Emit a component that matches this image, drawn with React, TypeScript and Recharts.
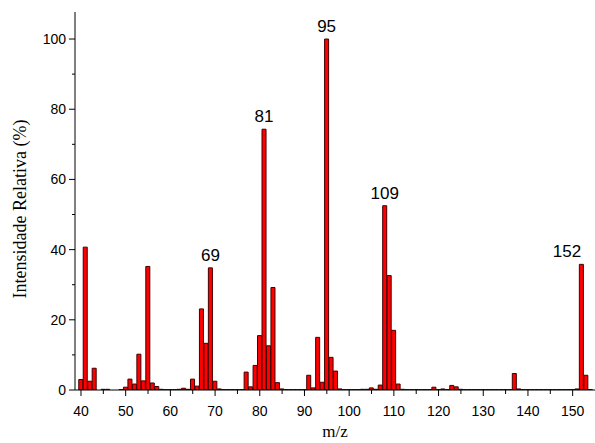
import { BarChart, Bar, XAxis, YAxis, LabelList, Label } from 'recharts';

// m/z values (one bar per integer mass)
const massToCharge = [
  39, 40, 41, 42, 43, 44, 45, 46, 47, 48,
  49, 50, 51, 52, 53, 54, 55, 56, 57, 58,
  59, 60, 61, 62, 63, 64, 65, 66, 67, 68,
  69, 70, 71, 72, 73, 74, 75, 76, 77, 78,
  79, 80, 81, 82, 83, 84, 85, 86, 87, 88,
  89, 90, 91, 92, 93, 94, 95, 96, 97, 98,
  99, 100, 101, 102, 103, 104, 105, 106, 107, 108,
  109, 110, 111, 112, 113, 114, 115, 116, 117, 118,
  119, 120, 121, 122, 123, 124, 125, 126, 127, 128,
  129, 130, 131, 132, 133, 134, 135, 136, 137, 138,
  139, 140, 141, 142, 143, 144, 145, 146, 147, 148,
  149, 150, 151, 152, 153, 154,
];

// relative intensity (%)
const intensity = [
  0, 3.0, 40.7, 2.5, 6.2, 0, 0.2, 0.2, 0, 0,
  0.1, 0.8, 3.1, 1.7, 10.2, 2.6, 35.2, 2.0, 1.0, 0.2,
  0.1, 0.1, 0.1, 0.2, 0.5, 0.2, 3.1, 1.1, 23.1, 13.3,
  34.8, 2.5, 0.3, 0.1, 0.1, 0.1, 0.1, 0.1, 5.1, 0.9,
  7.0, 15.5, 74.3, 12.6, 29.2, 2.1, 0.3, 0.1, 0.1, 0.1,
  0.1, 0.1, 4.2, 0.6, 15.0, 2.2, 100, 9.3, 5.4, 0.3,
  0.1, 0.1, 0.1, 0.1, 0.2, 0.2, 0.6, 0.2, 1.4, 52.5,
  32.6, 17.0, 1.7, 0.2, 0.1, 0.1, 0.1, 0.1, 0.1, 0.1,
  0.8, 0.1, 0.3, 0.1, 1.3, 0.9, 0.2, 0.1, 0.1, 0.1,
  0.1, 0.1, 0.1, 0.1, 0.1, 0.1, 0.1, 0.1, 4.7, 0.3,
  0.1, 0.1, 0.1, 0.1, 0.1, 0.1, 0.1, 0.1, 0.1, 0.1,
  0.1, 0.1, 0.3, 35.8, 4.2, 0.1,
];

// annotated peaks, keyed by the bar they sit on
const peakLabels: Record<number, string> = {
  69: '69',
  81: '81',
  95: '95',
  108: '109',
  152: '152',
};

const xTicks = [40, 45, 50, 55, 60, 65, 70, 75, 80, 85, 90, 95, 100, 105, 110, 115, 120, 125, 130, 135, 140, 145, 150];
const yTicks = [0, 10, 20, 30, 40, 50, 60, 70, 80, 90, 100];

const SANS = '"Liberation Sans", Arial, sans-serif';
const SERIF = '"Liberation Serif", "Times New Roman", serif';

const chartData = massToCharge.map((mz, i) => ({
  mz,
  value: intensity[i],
  peak: peakLabels[mz] ?? '',
}));

function XTick({ x, y, payload }: any) {
  const v = payload.value;
  const major = v % 10 === 0;
  return (
    <g>
      <line x1={x} x2={x} y1={y} y2={y + (major ? 6 : 4)} stroke="#000" strokeWidth={1} />
      {major && (
        <text x={x} y={y + 26} textAnchor="middle" fontSize={14} fontFamily={SANS} fill="#000">
          {v}
        </text>
      )}
    </g>
  );
}

function YTick({ x, y, payload }: any) {
  const v = payload.value;
  const major = v % 20 === 0;
  return (
    <g>
      <line x1={x - (major ? 6 : 3)} x2={x} y1={y} y2={y} stroke="#000" strokeWidth={1} />
      {major && (
        <text x={x - 9} y={y + 5} textAnchor="end" fontSize={14} fontFamily={SANS} fill="#000">
          {v}
        </text>
      )}
    </g>
  );
}

export default function App() {
  return (
    <div style={{ position: 'absolute', left: 0, top: 0, width: 595, height: 443, background: '#fff' }}>
      <BarChart
        width={595}
        height={443}
        data={chartData}
        margin={{ top: 12, right: 0, bottom: 0, left: 0 }}
        barCategoryGap={0}
        barGap={0}
      >
        <XAxis
          type="number"
          dataKey="mz"
          domain={[38.66, 155]}
          allowDataOverflow
          ticks={xTicks}
          interval={0}
          height={53}
          tickSize={0}
          tickMargin={0}
          tickLine={false}
          axisLine={{ stroke: '#000', strokeWidth: 1 }}
          tick={<XTick />}
        >
          <Label
            content={({ viewBox }: any) => (
              <text
                x={viewBox.x + viewBox.width / 2}
                y={viewBox.y + 47}
                textAnchor="middle"
                fontSize={17}
                fontFamily={SERIF}
                fill="#000"
              >
                m/z
              </text>
            )}
          />
        </XAxis>
        <YAxis
          type="number"
          domain={[0, 107.7]}
          allowDataOverflow
          ticks={yTicks}
          interval={0}
          width={75}
          tickSize={0}
          tickMargin={0}
          tickLine={false}
          axisLine={{ stroke: '#000', strokeWidth: 1 }}
          tick={<YTick />}
        >
          <Label
            content={({ viewBox }: any) => {
              const cx = viewBox.x + 20;
              const cy = viewBox.y + viewBox.height / 2 + 8;
              return (
                <text
                  x={cx}
                  y={cy}
                  transform={`rotate(-90 ${cx} ${cy})`}
                  textAnchor="middle"
                  dominantBaseline="central"
                  fontSize={18}
                  fontFamily={SERIF}
                  fill="#000"
                >
                  Intensidade Relativa (%)
                </text>
              );
            }}
          />
        </YAxis>
        <Bar
          dataKey="value"
          fill="#ff0000"
          stroke="#400000"
          strokeWidth={1}
          barSize={4.47}
          isAnimationActive={false}
        >
          <LabelList
            dataKey="peak"
            content={(props: any) => {
              const { x, y, width, value } = props;
              if (!value) return null;
              // keep the rightmost label inside the frame
              const cx = Math.min(Number(x) + Number(width) / 2, 567);
              return (
                <text x={cx} y={Number(y) - 7} textAnchor="middle" fontSize={17} fontFamily={SANS} fill="#000">
                  {value}
                </text>
              );
            }}
          />
        </Bar>
      </BarChart>
    </div>
  );
}
